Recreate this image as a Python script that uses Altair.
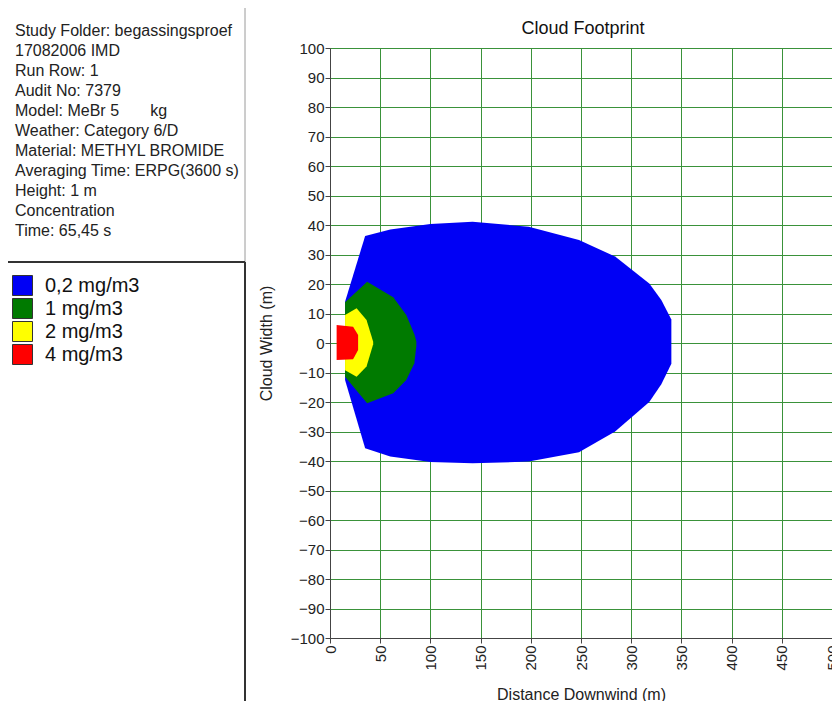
import altair as alt
import pandas as pd

# ---- data ----
levels = ["0,2 mg/m3", "1 mg/m3", "2 mg/m3", "4 mg/m3"]
level_colors = ["#0000F5", "#007A00", "#FFFF00", "#FF0000"]

blue_x = [15, 35, 60, 100, 142, 198, 248, 284, 318, 330, 340]
blue_upper = [14, 36.3, 38.5, 40.3, 41.1, 39.4, 34.9, 29.3, 20.2, 14.6, 8]
blue_lower = [-12.5, -35.7, -38.5, -40.3, -40.8, -40.2, -37, -30, -20, -14, -7]

green_x = [15, 37, 63, 76, 84, 86]
green_upper = [13.8, 20.8, 15.5, 9.5, 3, 0.5]
green_lower = [-11.4, -20.4, -17, -12.5, -6.9, -1]

yellow_x = [15, 26.5, 36.4, 43]
yellow_upper = [9.5, 11.8, 7.8, 0.4]
yellow_lower = [-9.2, -11.4, -8, -0.4]

red_x = [6.6, 23, 28]
red_upper = [6.1, 5.5, 2.7]
red_lower = [-5.8, -5.5, -2.4]

info_lines = [
    "Study Folder: begassingsproef",
    "17082006 IMD",
    "Run Row: 1",
    "Audit No: 7379",
    "Model: MeBr 5" + "\u00a0" * 7 + "kg",
    "Weather: Category 6/D",
    "Material: METHYL BROMIDE",
    "Averaging Time: ERPG(3600 s)",
    "Height: 1 m",
    "Concentration",
    "Time: 65,45 s",
]
chart_title = "Cloud Footprint"

x_ticks = list(range(0, 501, 50))
y_ticks = list(range(-100, 101, 10))

FONT = "Liberation Sans"
W, H = 502, 590

rows = []
for lvl, xs, ups, los in [
    (levels[0], blue_x, blue_upper, blue_lower),
    (levels[1], green_x, green_upper, green_lower),
    (levels[2], yellow_x, yellow_upper, yellow_lower),
    (levels[3], red_x, red_upper, red_lower),
]:
    for xv, u, l in zip(xs, ups, los):
        rows.append({"level": lvl, "x": xv, "upper": u, "lower": l})
df = pd.DataFrame(rows)

color = alt.Color(
    "level:N",
    scale=alt.Scale(domain=levels, range=level_colors),
    legend=alt.Legend(
        title=None,
        orient="none",
        legendX=-318,
        legendY=227,
        symbolType="square",
        symbolSize=400,
        symbolStrokeColor="#333333",
        symbolStrokeWidth=1,
        symbolOpacity=1,
        labelFont=FONT,
        labelFontSize=20,
        labelColor="#111111",
        labelOffset=12,
        rowPadding=-2,
        padding=0,
    ),
)

x_enc = alt.X(
    "x:Q",
    scale=alt.Scale(domain=[0, 500], nice=False, zero=False),
    axis=alt.Axis(
        title="Distance Downwind (m)",
        values=x_ticks,
        labelAngle=-90,
        labelFont=FONT,
        labelFontSize=15,
        labelColor="#222222",
        labelPadding=2,
        tickSize=5,
        tickColor="#444444",
        domainColor="#444444",
        gridColor="#3a923a",
        gridWidth=1,
        gridOpacity=1,
        titleFont=FONT,
        titleFontSize=16,
        titleFontWeight="normal",
        titleColor="#222222",
        titleY=56,
        titleBaseline="middle",
    ),
)
y_enc = alt.Y(
    "upper:Q",
    scale=alt.Scale(domain=[-100, 100], nice=False, zero=False),
    axis=alt.Axis(
        title="Cloud Width (m)",
        values=y_ticks,
        labelFont=FONT,
        labelFontSize=15,
        labelColor="#222222",
        labelPadding=1,
        tickSize=5,
        tickColor="#444444",
        domainColor="#444444",
        gridColor="#3a923a",
        gridWidth=1,
        gridOpacity=1,
        titleFont=FONT,
        titleFontSize=16,
        titleFontWeight="normal",
        titleColor="#222222",
        titleX=-64,
        titleY=H / 2,
        titleAngle=270,
        titleAlign="center",
        titleBaseline="middle",
    ),
)

base = alt.Chart(df)
areas = [
    base.transform_filter(alt.datum.level == lvl)
    .mark_area(opacity=1, interpolate="linear")
    .encode(x=x_enc, y=y_enc, y2="lower:Q", color=color)
    for lvl in levels
]

info_df = pd.DataFrame({"txt": ["\n".join(info_lines)]})
info = alt.Chart(info_df).mark_text(
    align="left", baseline="top", font=FONT, fontSize=16, color="#222222",
    lineBreak="\n", lineHeight=20,
).encode(x=alt.value(-315), y=alt.value(-25), text="txt:N")

title_df = pd.DataFrame({"t": [chart_title]})
title = alt.Chart(title_df).mark_text(
    align="center", baseline="middle", font=FONT, fontSize=18, color="#111111",
).encode(x=alt.value(W / 2 + 2), y=alt.value(-19), text="t:N")

sep_df = pd.DataFrame({"k": [0]})
sep_top = alt.Chart(sep_df).mark_rule(color="#9a9a9a", strokeWidth=1).encode(
    x=alt.value(-85), y=alt.value(-40), y2=alt.value(214))
sep_bottom = alt.Chart(sep_df).mark_rule(color="#333333", strokeWidth=2).encode(
    x=alt.value(-85), y=alt.value(214), y2=alt.value(660))
sep_h = alt.Chart(sep_df).mark_rule(color="#333333", strokeWidth=2).encode(
    x=alt.value(-330), x2=alt.value(-85), y=alt.value(214))

chart = alt.layer(*areas, sep_top, sep_bottom, sep_h, info, title).properties(
    width=W,
    height=H,
    autosize=alt.AutoSizeParams(type="none"),
    padding={"left": 322, "top": 40, "right": 0, "bottom": 63},
).configure_view(stroke="#555555", strokeWidth=1).configure(background="white")

chart.save("out.html", embed_options={"renderer": "svg", "actions": False})
